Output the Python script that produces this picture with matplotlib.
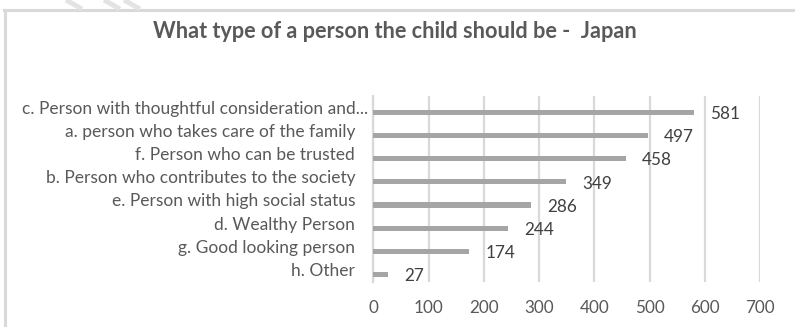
import matplotlib
matplotlib.use("Agg")
import matplotlib.pyplot as plt
from matplotlib.lines import Line2D

categories = [
    "c. Person with thoughtful consideration and...",
    "a. person who takes care of the family",
    "f. Person who can be trusted",
    "b. Person who contributes to the society",
    "e. Person with high social status",
    "d. Wealthy Person",
    "g. Good looking person",
    "h. Other",
]
values = [581, 497, 458, 349, 286, 244, 174, 27]
x_ticks = [0, 100, 200, 300, 400, 500, 600, 700]
title = "What type of a person the child should be -  Japan"

FONT = ["Lato", "DejaVu Sans"]
TEXT_GRAY = "#595959"
LABEL_GRAY = "#404040"
GRID_GRAY = "#d9d9d9"
BAR_GRAY = "#a5a5a5"

W, H = 795, 327
fig = plt.figure(figsize=(W / 100, H / 100), dpi=100)
fig.patch.set_facecolor("white")

# chart frame: top edge and left edge in light gray
fig.add_artist(Line2D([4 / W, 1.0], [1 - 10 / H, 1 - 10 / H],
                      transform=fig.transFigure, color="#d9d9d9", lw=2.2))
fig.add_artist(Line2D([5 / W, 5 / W], [1 - 10 / H, 0.0],
                      transform=fig.transFigure, color="#d9d9d9", lw=2.2))

# faint diagonal stripes above the frame
for x0 in [66, 104, 124]:
    fig.add_artist(Line2D([x0 / W, (x0 + 16) / W], [1.0, 1 - 9 / H],
                          transform=fig.transFigure, color="#e3e3e3", lw=3.5,
                          solid_capstyle="butt"))

ax = fig.add_axes([373.3 / W, 1 - 281.7 / H, (760 - 373.3) / W, (281.7 - 96) / H])
ypos = list(range(len(categories)))
ax.barh(ypos, values, height=0.22, color=BAR_GRAY, zorder=3)

ax.set_xlim(0, 700)
ax.set_ylim(7.32, -0.72)
ax.set_xticks(x_ticks)
ax.set_xticklabels([str(t) for t in x_ticks])
ax.set_yticks(ypos)
ax.set_yticklabels([])

# category labels sit a little above their bars; the truncated first one
# reaches closer to the axis than the others
for i, (y, cat) in enumerate(zip(ypos, categories)):
    dx = -3.6 if i == 0 else -13.0
    ax.annotate(cat, xy=(0, y), xytext=(dx, 2.6), textcoords="offset points",
                ha="right", va="center", fontsize=12.5, color=TEXT_GRAY,
                family=FONT, annotation_clip=False)

ax.grid(axis="x", color=GRID_GRAY, lw=1.6, zorder=0)
for s in ["top", "right", "bottom"]:
    ax.spines[s].set_visible(False)
ax.spines["left"].set_color(GRID_GRAY)
ax.spines["left"].set_linewidth(1.6)
ax.tick_params(axis="both", length=0)
ax.tick_params(axis="x", pad=13.5)
for lab in ax.get_xticklabels():
    lab.set_fontfamily(FONT)
    lab.set_fontsize(12.3)
    lab.set_color(TEXT_GRAY)

for y, v in zip(ypos, values):
    ax.annotate(str(v), xy=(v, y), xytext=(11.5, -1.2), textcoords="offset points",
                ha="left", va="center", fontsize=12.3, color=LABEL_GRAY, family=FONT)

fig.text(395 / W, 1 - 31 / H, title, ha="center", va="center",
         fontsize=15.6, fontweight="bold", color=TEXT_GRAY, family=FONT)

fig.savefig("out.png", dpi=100)
